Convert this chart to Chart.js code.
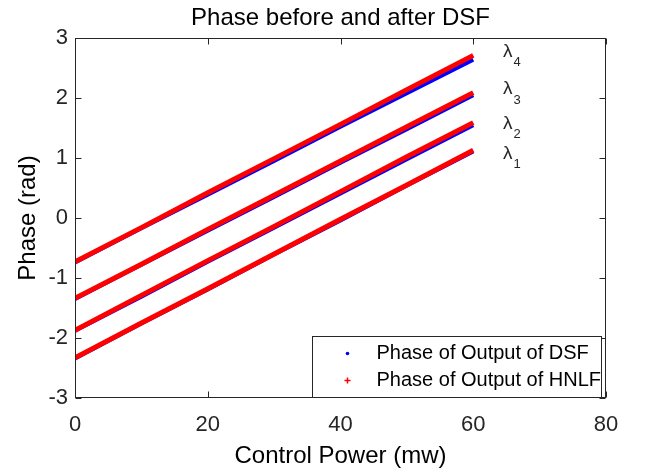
<!DOCTYPE html>
<html>
<head>
<meta charset="utf-8">
<script src="https://cdn.jsdelivr.net/npm/chart.js@4.4.1/dist/chart.umd.min.js"></script>
<style>
  html, body { margin: 0; padding: 0; background: #fff; }
</style>
</head>
<body>
<canvas id="phaseChart" width="645" height="470"></canvas>
<script>
// control power sweep (mW)
const powerMw = [0, 10, 20, 30, 40, 50, 60];

// phase of DSF output per wavelength (rad)
const dsfL1 = [-2.34, -1.76, -1.19, -0.61, -0.04, 0.54, 1.11];
const dsfL2 = [-1.88, -1.31, -0.73, -0.16, 0.41, 0.98, 1.545];
const dsfL3 = [-1.35, -0.78, -0.21, 0.35, 0.92, 1.48, 2.045];
const dsfL4 = [-0.74, -0.17, 0.39, 0.95, 1.52, 2.08, 2.64];

// phase of HNLF output per wavelength (rad)
const hnlfL1 = [-2.33, -1.75, -1.18, -0.60, -0.02, 0.55, 1.13];
const hnlfL2 = [-1.87, -1.29, -0.71, -0.14, 0.44, 1.02, 1.59];
const hnlfL3 = [-1.34, -0.77, -0.19, 0.38, 0.95, 1.52, 2.09];
const hnlfL4 = [-0.73, -0.16, 0.42, 0.99, 1.56, 2.14, 2.71];

const xTickValues = [0, 20, 40, 60, 80];
const yTickValues = [-3, -2, -1, 0, 1, 2, 3];

// wavelength tags next to the line ends
const lambdaSubs = ['1', '2', '3', '4'];
const lambdaY = [1.07, 1.57, 2.15, 2.77];
const lambdaX = 64.5;

const chartTitle = 'Phase before and after DSF';
const seriesNames = ['Phase of Output of DSF', 'Phase of Output of HNLF'];

const FONT = "'Liberation Sans', Arial, Helvetica, sans-serif";
const INK = '#262626';
const BLUE = '#0000ff';
const RED = '#ff0000';

function pts(ys) {
  return powerMw.map((p, i) => ({ x: p, y: ys[i] }));
}

const datasets = [];
[hnlfL1, hnlfL2, hnlfL3, hnlfL4].forEach(ys => {
  datasets.push({
    label: seriesNames[1], data: pts(ys), order: 0,
    borderColor: RED, backgroundColor: RED, borderWidth: 5,
    showLine: true, pointRadius: 0, tension: 0
  });
});
[dsfL1, dsfL2, dsfL3, dsfL4].forEach(ys => {
  datasets.push({
    label: seriesNames[0], data: pts(ys), order: 1,
    borderColor: BLUE, backgroundColor: BLUE, borderWidth: 4,
    showLine: true, pointRadius: 0, tension: 0
  });
});

// box around the axes with inward ticks on all four sides, title, tags, legend
const axesBox = {
  id: 'axesBox',
  afterDatasetsDraw(chart) {
    const { ctx, chartArea: a, scales: { x, y } } = chart;
    const L = Math.round(a.left) + 0.5, R = Math.round(a.right) - 0.5;
    const T = Math.round(a.top) + 0.5, B = Math.round(a.bottom) - 0.5;
    ctx.save();
    ctx.strokeStyle = INK;
    ctx.lineWidth = 1;
    ctx.strokeRect(L, T, R - L, B - T);
    ctx.beginPath();
    xTickValues.forEach(v => {
      const px = Math.round(x.getPixelForValue(v)) + 0.5;
      ctx.moveTo(px, B); ctx.lineTo(px, B - 6);
      ctx.moveTo(px, T); ctx.lineTo(px, T + 6);
    });
    yTickValues.forEach(v => {
      const py = Math.round(y.getPixelForValue(v)) + 0.5;
      ctx.moveTo(L, py); ctx.lineTo(L + 6, py);
      ctx.moveTo(R, py); ctx.lineTo(R - 6, py);
    });
    ctx.stroke();

    // title centred over the axes
    ctx.fillStyle = '#000';
    ctx.font = '24px ' + FONT;
    ctx.textAlign = 'center';
    ctx.textBaseline = 'middle';
    ctx.fillText(chartTitle, (a.left + a.right) / 2, 18);

    // lambda labels
    ctx.fillStyle = INK;
    ctx.textAlign = 'left';
    lambdaSubs.forEach((s, i) => {
      const px = x.getPixelForValue(lambdaX);
      const py = y.getPixelForValue(lambdaY[i]);
      ctx.font = '19px ' + FONT;
      ctx.fillText('\u03bb', px, py);
      const w = ctx.measureText('\u03bb').width;
      ctx.font = '13px ' + FONT;
      ctx.fillText(s, px + w + 1, py + 11);
    });
    ctx.restore();
  },
  afterDraw(chart) {
    const { ctx, chartArea: a } = chart;
    const bw = 289, bh = 61;
    const right = Math.round(a.right) - 4.5, bottom = Math.round(a.bottom) - 0.5;
    const left = right - bw, top = bottom - bh;
    ctx.save();
    ctx.fillStyle = '#fff';
    ctx.fillRect(left, top, bw, bh);
    ctx.strokeStyle = INK;
    ctx.lineWidth = 1;
    ctx.strokeRect(left, top, bw, bh);

    const mx = left + 35, tx = left + 64;
    const rows = [top + 17, top + 44];
    // blue dot
    ctx.fillStyle = BLUE;
    ctx.beginPath();
    ctx.arc(mx, rows[0], 1.8, 0, Math.PI * 2);
    ctx.fill();
    // red plus
    ctx.strokeStyle = RED;
    ctx.lineWidth = 1.5;
    ctx.beginPath();
    ctx.moveTo(mx - 3, rows[1]); ctx.lineTo(mx + 3, rows[1]);
    ctx.moveTo(mx, rows[1] - 3); ctx.lineTo(mx, rows[1] + 3);
    ctx.stroke();

    ctx.fillStyle = '#000';
    ctx.font = '20px ' + FONT;
    ctx.textAlign = 'left';
    ctx.textBaseline = 'middle';
    ctx.fillText(seriesNames[0], tx, rows[0]);
    ctx.fillText(seriesNames[1], tx, rows[1]);
    ctx.restore();
  }
};

new Chart(document.getElementById('phaseChart'), {
  type: 'scatter',
  data: { datasets: datasets },
  plugins: [axesBox],
  options: {
    responsive: false,
    animation: false,
    layout: { padding: { left: 0, right: 39, top: 38, bottom: 0 } },
    plugins: {
      legend: { display: false },
      tooltip: { enabled: false }
    },
    scales: {
      x: {
        type: 'linear', min: 0, max: 80,
        afterBuildTicks: s => { s.ticks = xTickValues.map(v => ({ value: v })); },
        afterFit: s => { s.height = 72; },
        grid: { display: false, drawTicks: false },
        border: { display: false },
        ticks: { color: INK, font: { family: FONT, size: 22 }, padding: 14, maxRotation: 0 },
        title: {
          display: true, text: 'Control Power (mw)', color: '#000',
          font: { family: FONT, size: 24, lineHeight: 1.2 },
          padding: { top: 0, bottom: -1 }
        }
      },
      y: {
        type: 'linear', min: -3, max: 3,
        afterBuildTicks: s => { s.ticks = yTickValues.map(v => ({ value: v })); },
        afterFit: s => { s.width = 75; },
        grid: { display: false, drawTicks: false },
        border: { display: false },
        ticks: { color: INK, font: { family: FONT, size: 22 }, padding: 7 },
        title: {
          display: true, text: 'Phase (rad)', color: '#000',
          font: { family: FONT, size: 24, lineHeight: 1.2 },
          padding: { top: 13.5, bottom: 0 }
        }
      }
    }
  }
});
</script>
</body>
</html>
